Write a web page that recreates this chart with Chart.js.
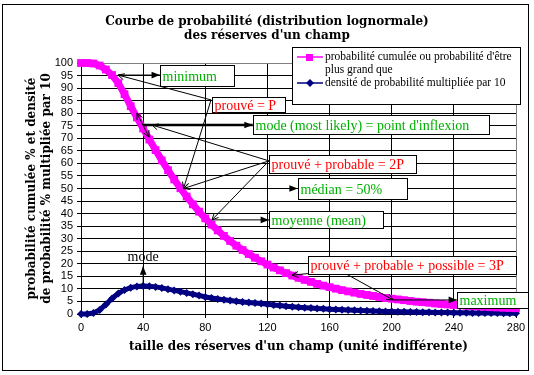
<!DOCTYPE html>
<html>
<head>
<meta charset="utf-8">
<script src="https://cdn.jsdelivr.net/npm/chart.js@4.4.1/dist/chart.umd.min.js"></script>
<style>html,body{margin:0;padding:0;background:#fff}canvas{display:block}</style>
</head>
<body>
<canvas id="graphe" width="534" height="375"></canvas>
<script>
// taille des réserves (axe x)
const taille = [0,4,8,12,16,20,24,28,32,36,40,44,48,52,56,60,64,68,72,76,
  80,84,88,92,96,100,104,108,112,116,120,124,128,132,136,140,144,148,152,156,
  160,164,168,172,176,180,184,188,192,196,200,204,208,212,216,220,224,228,232,236,
  240,244,248,252,256,260,264,268,272,276,280];

// probabilité cumulée (%)
const probCumulee = [100,100,99.8,99.0,97.4,95.2,92.0,87.6,82.8,78.3,
  73.9,69.5,65.3,61.2,57.3,53.6,50.1,46.8,43.7,40.8,
  38.1,35.6,33.3,31.1,29.1,27.2,25.5,23.9,22.4,21.0,
  19.7,18.5,17.4,16.3,15.3,14.4,13.6,12.8,12.0,11.3,
  10.7,10.1,9.5,9.0,8.5,8.0,7.6,7.2,6.8,6.4,
  6.1,5.8,5.5,5.2,4.9,4.7,4.5,4.2,4.0,3.8,
  3.6,3.5,3.3,3.1,3.0,2.9,2.7,2.6,2.5,2.4,2.3];

// densité de probabilité x 10
const densite10 = [0,0,0.4,1.6,3.8,6.2,8.2,9.6,10.5,11.0,
  11.2,11.1,10.8,10.4,9.9,9.4,8.9,8.4,7.9,7.4,
  6.8,6.4,6.0,5.7,5.4,5.1,4.8,4.6,4.4,4.2,
  3.9,3.6,3.4,3.1,2.9,2.7,2.5,2.35,2.2,2.05,
  1.9,1.8,1.7,1.6,1.5,1.4,1.3,1.2,1.1,1.0,
  0.95,0.9,0.85,0.8,0.75,0.7,0.66,0.62,0.58,0.55,
  0.52,0.49,0.46,0.43,0.41,0.39,0.37,0.35,0.33,0.31,0.3];

const serieLabels = ["probabilité cumulée ou probabilité d'être plus grand que",
  "densité de probabilité multipliée par 10"];
const titre = ["Courbe de probabilité (distribution lognormale)", "des réserves d'un champ"];
const titreX = "taille des réserves d'un champ (unité indifférente)";
const titreY = ["probabilité cumulée % et densité", "de probabilité % multipliée par 10"];

// annotations (en unités des axes)
const vert = '#00b000', rouge = '#ff0000';
const boites = [
  {txt:'minimum', coul:vert, x0:51, x1:98.5, y0:99.3, y1:90.8},
  {txt:'prouvé = P', coul:rouge, x0:84, x1:131, y0:86.6, y1:80.6},
  {txt:"mode (most likely) = point d'inflexion", coul:vert, x0:110.7, x1:262.6, y0:79.3, y1:71.7},
  {txt:'prouvé + probable = 2P', coul:rouge, x0:121, x1:215.6, y0:63.3, y1:56.2},
  {txt:'médian = 50%', coul:vert, x0:139.7, x1:209.8, y0:54.2, y1:45.8},
  {txt:'moyenne (mean)', coul:vert, x0:121, x1:194.4, y0:41, y1:34.3},
  {txt:'prouvé + probable + possible = 3P', coul:rouge, x0:146.1, x1:280, y0:23.1, y1:15.9},
  {txt:'maximum', coul:vert, x0:242, x1:287.5, y0:8.8, y1:2.4}
];
const fleches = [
  {pts:[[23.8,95.2],[50.8,95.2]], tete:'p'},
  {pts:[[83.7,85.3],[23.8,95.2]], tete:'o'},
  {pts:[[83.7,85.3],[66,50]], tete:'o'},
  {pts:[[40,75.3],[110.5,75.3]], tete:'p', ep:2.5},
  {pts:[[36,80],[43.8,70.5]], tete:'d'},
  {pts:[[121,61],[45.7,75.3]], tete:'o'},
  {pts:[[121,61],[66,50]], tete:'o'},
  {pts:[[121,61],[84.3,37.5]], tete:'o'},
  {pts:[[66,50],[139.5,50]], tete:'p'},
  {pts:[[84.3,37.5],[121,37.5]], tete:'p'},
  {pts:[[165.6,17.2],[135.8,15.5]], tete:'o'},
  {pts:[[165.6,17.2],[168.8,16.6],[201,5.6]], tete:'o'},
  {pts:[[201,5.6],[242,5.6]], tete:'p'},
  {pts:[[40,11.2],[40,19]], tete:'p'}
];

function tete(c, fx, fy, tx, ty, pleine){
  const a = Math.atan2(ty-fy, tx-fx), L = pleine ? 9 : 7, W = pleine ? 0.38 : 0.45;
  c.beginPath();
  c.moveTo(tx - L*Math.cos(a-W), ty - L*Math.sin(a-W));
  c.lineTo(tx, ty);
  c.lineTo(tx - L*Math.cos(a+W), ty - L*Math.sin(a+W));
  if(pleine){ c.closePath(); c.fill(); } else c.stroke();
}

const decor = {
  id:'decor',
  beforeDraw(chart){
    const c = chart.ctx;
    c.save(); c.fillStyle = '#fff'; c.fillRect(0,0,chart.width,chart.height); c.restore();
  },
  afterDraw(chart){
    const c = chart.ctx, sx = chart.scales.x, sy = chart.scales.y;
    const px = v => sx.getPixelForValue(v), py = v => sy.getPixelForValue(v);
    c.save();
    c.strokeStyle = '#000'; c.lineWidth = 1;
    c.strokeRect(2.5, 4.5, 526, 366);

    // flèches
    c.fillStyle = '#000';
    fleches.forEach(f => {
      const p = f.pts.map(q => [px(q[0]), py(q[1])]);
      c.lineWidth = f.ep || 1;
      c.beginPath(); c.moveTo(p[0][0], p[0][1]);
      p.slice(1).forEach(q => c.lineTo(q[0], q[1]));
      c.stroke();
      c.lineWidth = 1;
      const n = p.length;
      tete(c, p[n-2][0], p[n-2][1], p[n-1][0], p[n-1][1], f.tete === 'p');
      if(f.tete === 'd') tete(c, p[1][0], p[1][1], p[0][0], p[0][1], false);
    });

    // boîtes de texte
    c.font = '14px "Liberation Serif"';
    c.textBaseline = 'middle';
    boites.forEach(b => {
      const x0 = Math.round(px(b.x0))+0.5, x1 = Math.round(px(b.x1))+0.5;
      const y0 = Math.round(py(b.y0))+0.5, y1 = Math.round(py(b.y1))+0.5;
      c.fillStyle = '#fff'; c.fillRect(x0, y0, x1-x0, y1-y0);
      c.strokeStyle = '#000'; c.strokeRect(x0, y0, x1-x0, y1-y0);
      c.fillStyle = b.coul; c.fillText(b.txt, x0+2, (y0+y1)/2+1);
    });

    // étiquette mode
    c.fillStyle = '#000'; c.textAlign = 'center';
    c.fillText('mode', px(40), py(22.6));
    c.textAlign = 'left';

    // légende
    const lx0 = 292.5, lx1 = 520.5, ly0 = 47.5, ly1 = 104.5;
    c.fillStyle = '#fff'; c.fillRect(lx0, ly0, lx1-lx0, ly1-ly0);
    c.strokeStyle = '#000'; c.strokeRect(lx0, ly0, lx1-lx0, ly1-ly0);
    c.font = '11.5px "Liberation Serif"';
    let y = 57;
    chart.data.datasets.forEach((ds, i) => {
      c.strokeStyle = ds.borderColor; c.fillStyle = ds.borderColor; c.lineWidth = 1.5;
      c.beginPath(); c.moveTo(297, y); c.lineTo(323, y); c.stroke();
      if(i === 0) c.fillRect(306, y-3, 7, 7);
      else { c.beginPath(); c.moveTo(310,y-4); c.lineTo(314,y); c.lineTo(310,y+4); c.lineTo(306,y); c.fill(); }
      c.fillStyle = '#000';
      const mots = ds.label.split(' '); let ligne = '';
      mots.forEach(m => {
        const essai = ligne ? ligne + ' ' + m : m;
        if(c.measureText(essai).width > 192 && ligne){ c.fillText(ligne, 325, y); y += 13; ligne = m; }
        else ligne = essai;
      });
      c.fillText(ligne, 325, y); y += 13;
    });
    c.restore();
  }
};

const policeTitre = {family:'"DejaVu Serif"', size:12, weight:'bold'};

new Chart(document.getElementById('graphe'), {
  type: 'line',
  data: {
    datasets: [
      {label: serieLabels[0], data: taille.map((t,i)=>({x:t, y:probCumulee[i]})),
       borderColor:'#ff00ff', backgroundColor:'#ff00ff', borderWidth:7,
       pointStyle:'rect', pointRadius:5.5, pointBorderWidth:0, pointBackgroundColor:'#ff00ff', clip:false},
      {label: serieLabels[1], data: taille.map((t,i)=>({x:t, y:densite10[i]})),
       borderColor:'#000080', backgroundColor:'#000080', borderWidth:5,
       pointStyle:'rectRot', pointRadius:4, pointBorderWidth:0, pointBackgroundColor:'#000080', clip:false}
    ]
  },
  options: {
    responsive:false, animation:false, devicePixelRatio:1,
    layout:{padding:{left:18, right:18, top:0, bottom:0}},
    plugins:{
      legend:{display:false}, tooltip:{enabled:false},
      title:{display:true, text:titre, color:'#000',
        font:{...policeTitre, lineHeight:'14px'},
        padding:{top:15, bottom:20}}
    },
    scales:{
      x:{type:'linear', min:0, max:280,
        ticks:{stepSize:40, color:'#000', padding:3, font:{family:'"Liberation Sans"', size:11}},
        grid:{color:c => c.tick && c.tick.value === 280 ? '#808080' : '#000', tickLength:4, tickColor:'#000'},
        border:{color:'#000'},
        title:{display:true, text:titreX, color:'#000', padding:{top:0, bottom:20},
          font:{...policeTitre, lineHeight:'16px'}},
        afterFit:s => { s.height = 61; }
      },
      y:{min:0, max:100,
        ticks:{stepSize:5, autoSkip:false, color:'#000', padding:4, font:{family:'"Liberation Sans"', size:11, lineHeight:1}},
        grid:{color:c => c.tick && c.tick.value === 100 ? '#808080' : '#000', tickLength:4, tickColor:'#000'},
        border:{color:'#000'},
        title:{display:true, text:titreY, color:'#000', padding:{top:6.5, bottom:0},
          font:{...policeTitre, lineHeight:'15px'}},
        afterFit:s => { s.width = 63; }
      }
    }
  },
  plugins:[decor]
});
</script>
</body>
</html>
